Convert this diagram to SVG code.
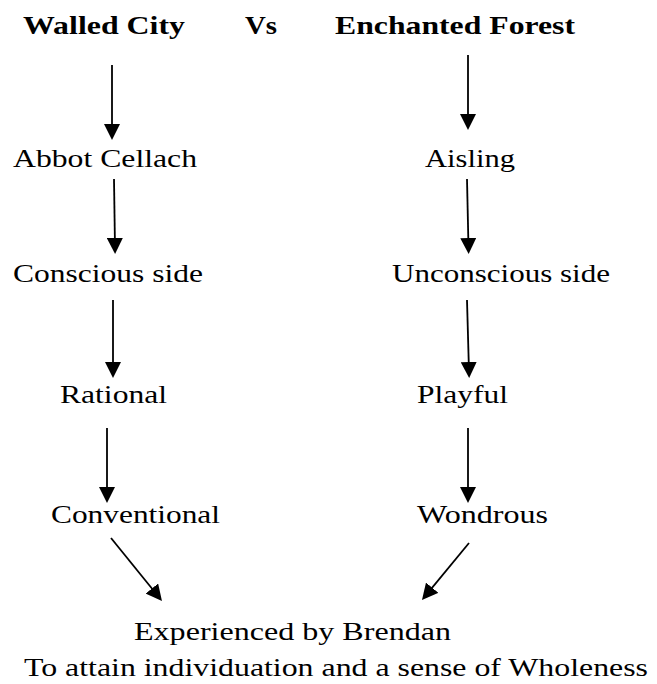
<svg xmlns="http://www.w3.org/2000/svg" width="657" height="684" viewBox="0 0 657 684">
<style>
text{font-family:"Liberation Serif","Times New Roman",serif;font-size:26px;fill:#000}
.b{font-weight:bold;font-size:25px}
.c line{stroke:#000;stroke-width:1.8;marker-end:url(#ah)}
</style>
<defs>
<marker id="ah" viewBox="0 0 16 16" refX="10" refY="8" markerWidth="16" markerHeight="16" markerUnits="userSpaceOnUse" orient="auto">
<path d="M0,0 L16,8 L0,16 z" fill="#000"/>
</marker>
</defs>
<rect width="657" height="684" fill="#fff"/>
<g id="n-walled"><text class="b" x="23" y="34" textLength="162" lengthAdjust="spacingAndGlyphs">Walled City</text></g>
<g id="n-vs"><text class="b" x="245" y="34" textLength="32" lengthAdjust="spacingAndGlyphs">Vs</text></g>
<g id="n-forest"><text class="b" x="335" y="34" textLength="240" lengthAdjust="spacingAndGlyphs">Enchanted Forest</text></g>
<g id="n-abbot"><text x="13" y="167" textLength="184" lengthAdjust="spacingAndGlyphs">Abbot Cellach</text></g>
<g id="n-aisling"><text x="425" y="167" textLength="90" lengthAdjust="spacingAndGlyphs">Aisling</text></g>
<g id="n-conscious"><text x="13" y="282" textLength="190" lengthAdjust="spacingAndGlyphs">Conscious side</text></g>
<g id="n-unconscious"><text x="392" y="282" textLength="218" lengthAdjust="spacingAndGlyphs">Unconscious side</text></g>
<g id="n-rational"><text x="60" y="403" textLength="107" lengthAdjust="spacingAndGlyphs">Rational</text></g>
<g id="n-playful"><text x="417" y="403" textLength="91" lengthAdjust="spacingAndGlyphs">Playful</text></g>
<g id="n-conventional"><text x="51" y="523" textLength="169" lengthAdjust="spacingAndGlyphs">Conventional</text></g>
<g id="n-wondrous"><text x="417" y="523" textLength="131" lengthAdjust="spacingAndGlyphs">Wondrous</text></g>
<g id="n-brendan">
<text x="134" y="640" textLength="317" lengthAdjust="spacingAndGlyphs">Experienced by Brendan</text>
<text x="24" y="676" textLength="624" lengthAdjust="spacingAndGlyphs">To attain individuation and a sense of Wholeness</text>
</g>
<g id="connectors" class="c">
<line x1="112" y1="65" x2="112" y2="134"/>
<line x1="468" y1="55" x2="468" y2="124"/>
<line x1="114" y1="179" x2="115" y2="248"/>
<line x1="467" y1="179" x2="468.5" y2="248"/>
<line x1="113" y1="300" x2="113" y2="372"/>
<line x1="467" y1="300" x2="469" y2="372"/>
<line x1="107" y1="428" x2="107" y2="497"/>
<line x1="468" y1="428" x2="468" y2="497"/>
<line x1="111" y1="538" x2="158.2" y2="596.3"/>
<line x1="469" y1="543" x2="425.8" y2="595.4"/>
</g>
</svg>
